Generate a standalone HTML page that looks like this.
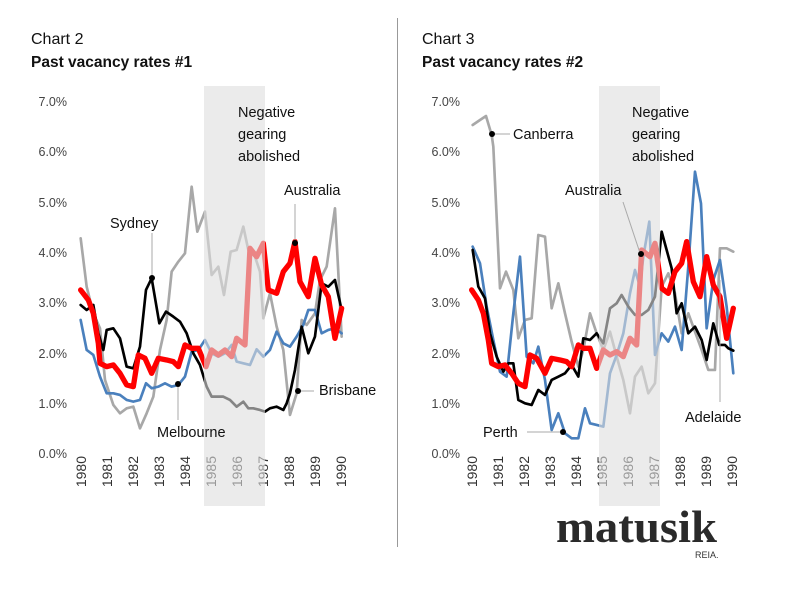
<!DOCTYPE html>
<html><head><meta charset="utf-8"><style>
body{margin:0;background:#fff;width:793px;height:605px;overflow:hidden}
svg text{font-family:"Liberation Sans",sans-serif}
</style></head><body>
<svg width="793" height="605" viewBox="0 0 793 605" xmlns="http://www.w3.org/2000/svg">
<rect width="793" height="605" fill="#fff"/>
<line x1="397.5" y1="18" x2="397.5" y2="547" stroke="#999" stroke-width="1"/>
<g font-size="16" fill="#111">
<text x="31" y="44">Chart 2</text>
<text x="31" y="67" font-weight="bold" font-size="15.5">Past vacancy rates #1</text>
<text x="422" y="44">Chart 3</text>
<text x="422" y="67" font-weight="bold" font-size="15.5">Past vacancy rates #2</text>
</g>
<g font-size="12.5" fill="#444" text-anchor="end">
<text x="67" y="106">7.0%</text><text x="67" y="156">6.0%</text><text x="67" y="207">5.0%</text><text x="67" y="257">4.0%</text><text x="67" y="307">3.0%</text><text x="67" y="358">2.0%</text><text x="67" y="408">1.0%</text><text x="67" y="458">0.0%</text>
<text x="460" y="106">7.0%</text><text x="460" y="156">6.0%</text><text x="460" y="207">5.0%</text><text x="460" y="257">4.0%</text><text x="460" y="307">3.0%</text><text x="460" y="358">2.0%</text><text x="460" y="408">1.0%</text><text x="460" y="458">0.0%</text>
</g>
<g font-size="14" fill="#333" text-anchor="end">
<text transform="translate(86,456) rotate(-90)">1980</text>
<text transform="translate(112,456) rotate(-90)">1981</text>
<text transform="translate(138,456) rotate(-90)">1982</text>
<text transform="translate(164,456) rotate(-90)">1983</text>
<text transform="translate(190,456) rotate(-90)">1984</text>
<text transform="translate(216,456) rotate(-90)">1985</text>
<text transform="translate(242,456) rotate(-90)">1986</text>
<text transform="translate(268,456) rotate(-90)">1987</text>
<text transform="translate(294,456) rotate(-90)">1988</text>
<text transform="translate(320,456) rotate(-90)">1989</text>
<text transform="translate(346,456) rotate(-90)">1990</text>
<text transform="translate(477,456) rotate(-90)">1980</text>
<text transform="translate(503,456) rotate(-90)">1981</text>
<text transform="translate(529,456) rotate(-90)">1982</text>
<text transform="translate(555,456) rotate(-90)">1983</text>
<text transform="translate(581,456) rotate(-90)">1984</text>
<text transform="translate(607,456) rotate(-90)">1985</text>
<text transform="translate(633,456) rotate(-90)">1986</text>
<text transform="translate(659,456) rotate(-90)">1987</text>
<text transform="translate(685,456) rotate(-90)">1988</text>
<text transform="translate(711,456) rotate(-90)">1989</text>
<text transform="translate(737,456) rotate(-90)">1990</text>
</g>
<g transform="translate(60,80) scale(0.3333)" fill="none" stroke-linejoin="round" stroke-linecap="round">
<polyline stroke="#a8a8a8" stroke-width="8" points="62,475 80,620 100,700 120,745 135,900 160,975 180,1000 200,985 220,980 240,1045 260,1000 280,950 300,810 320,720 335,575 355,545 375,520 395,320 412,455 435,395 455,585 475,560 492,645 512,515 530,510 550,440 565,510 585,530 600,575 610,715 630,640 650,740 670,810 690,1005 710,940 725,720 740,735 765,700 780,600 800,560 825,385 845,770"/>
<polyline stroke="#4a80bd" stroke-width="8" points="62,720 80,810 100,825 120,890 140,940 160,940 180,945 200,960 220,965 240,960 258,910 275,925 295,920 315,910 335,920 355,915 375,890 395,815 415,810 435,780 455,820 475,830 495,820 515,795 530,845 550,850 570,855 590,808 610,830 630,810 650,755 670,790 690,800 710,770 730,735 745,690 765,690 785,760 805,750 825,745 845,760"/>
<polyline stroke="#000" stroke-width="8" points="62,675 80,690 100,675 115,760 130,810 140,750 160,745 180,775 200,860 220,865 240,800 258,630 275,595 298,730 318,695 340,710 360,725 380,760 400,820 420,855 440,920 455,950 490,950 510,960 530,980 550,965 565,985 580,985 600,990 615,995 630,985 650,980 670,990 680,970 690,940 705,870 725,740 745,820 765,770 785,610 805,620 825,600 845,690"/>
<polyline stroke="#ff0000" stroke-width="16" points="62,630 85,660 100,700 115,790 120,850 140,860 160,855 180,880 200,915 220,920 235,825 255,835 275,880 295,835 320,840 340,845 355,860 375,795 395,805 415,805 438,860 455,810 475,825 495,810 515,830 530,775 555,795 570,505 590,530 610,490 625,630 650,640 670,575 690,550 705,485 720,605 745,650 765,535 785,615 805,650 825,775 845,685"/>
</g>
<rect x="204" y="86" width="61" height="420" fill="#dedede" opacity="0.6"/>
<g transform="translate(450,80) scale(0.3333)" fill="none" stroke-linejoin="round" stroke-linecap="round">
<polyline stroke="#a8a8a8" stroke-width="8" points="68,135 90,120 108,108 125,165 130,200 150,625 168,575 190,630 205,775 225,720 245,715 265,465 285,470 305,685 325,610 345,700 365,785 385,860 400,810 420,700 440,760 460,810 480,755 500,830 520,900 540,1000 555,890 575,860 595,940 615,910 635,620 655,580 675,640 695,760 715,700 735,755 755,810 775,870 795,870 810,505 830,505 850,515"/>
<polyline stroke="#4a80bd" stroke-width="8" points="68,500 90,550 110,680 130,780 150,875 170,890 190,700 210,530 230,830 250,850 265,800 285,900 305,1050 325,1000 345,1060 365,1075 385,1075 405,985 420,1030 440,1035 460,1040 480,880 500,825 520,760 540,640 555,570 570,620 580,530 598,425 615,825 635,760 655,785 675,740 695,810 715,560 735,275 753,370 770,745 790,600 810,540 830,680 850,880"/>
<polyline stroke="#000" stroke-width="8" points="68,510 85,620 105,655 120,760 140,830 160,875 175,850 190,850 205,960 225,970 245,975 265,930 285,945 305,900 325,890 345,880 365,855 385,890 400,775 420,780 440,760 460,790 480,685 500,670 515,645 535,680 555,705 575,705 595,690 615,650 635,455 650,510 665,565 680,700 695,670 715,760 735,740 755,780 770,840 790,730 808,795 825,795 835,805 850,812"/>
<polyline stroke="#ff0000" stroke-width="16" points="65,630 85,660 100,700 115,780 125,850 145,860 165,855 185,880 205,910 225,920 240,825 260,835 285,880 305,835 330,840 350,845 365,860 385,795 400,805 420,805 440,865 460,810 480,825 500,815 520,830 540,775 560,795 575,510 600,530 615,490 635,625 655,640 675,575 695,550 710,485 730,605 750,650 770,530 790,615 810,650 830,775 850,685"/>
</g>
<rect x="599" y="86" width="61" height="420" fill="#dedede" opacity="0.6"/>
<g stroke="#aaa" stroke-width="1">
<line x1="152" y1="233" x2="152" y2="278"/>
<line x1="178" y1="384" x2="178" y2="420"/>
<line x1="298" y1="391" x2="314" y2="391"/>
<line x1="295" y1="204" x2="295" y2="243"/>
<line x1="492" y1="134" x2="510" y2="134"/>
<line x1="623" y1="202" x2="640" y2="253"/>
<line x1="527" y1="432" x2="560" y2="432"/>
<line x1="720" y1="402" x2="720" y2="280"/>
</g>
<g fill="#000">
<circle cx="152" cy="278" r="3"/><circle cx="178" cy="384" r="3"/><circle cx="298" cy="391" r="3"/><circle cx="295" cy="243" r="3"/>
<circle cx="492" cy="134" r="3"/><circle cx="641" cy="254" r="3"/><circle cx="563" cy="432" r="3"/>
</g>
<g font-size="14.5" fill="#111">
<text x="110" y="228">Sydney</text>
<text x="157" y="437">Melbourne</text>
<text x="319" y="395">Brisbane</text>
<text x="284" y="195">Australia</text>
<text x="238" y="117">Negative</text><text x="238" y="139">gearing</text><text x="238" y="161">abolished</text>
<text x="513" y="139">Canberra</text>
<text x="565" y="195">Australia</text>
<text x="483" y="437">Perth</text>
<text x="685" y="422">Adelaide</text>
<text x="632" y="117">Negative</text><text x="632" y="139">gearing</text><text x="632" y="161">abolished</text>
</g>
<text x="556" y="542" font-weight="bold" font-size="46" fill="#2a2a2a" textLength="161" lengthAdjust="spacingAndGlyphs" style="font-family:'Liberation Serif',serif">matusik</text>
<text x="695" y="558" font-size="9" fill="#333">REIA.</text>
</svg>
</body></html>
